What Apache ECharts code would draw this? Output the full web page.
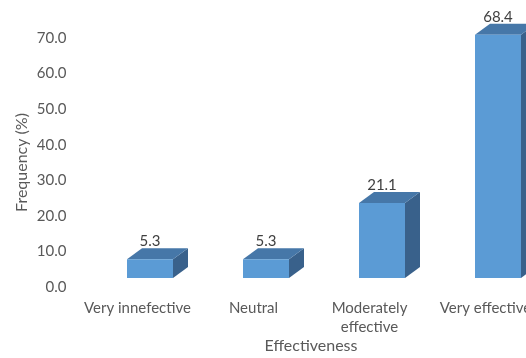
<!DOCTYPE html>
<html>
<head>
<meta charset="utf-8">
<style>
  html, body { margin: 0; padding: 0; background: #fff; }
  #chart { width: 526px; height: 358px; }
</style>
<script src="https://cdn.jsdelivr.net/npm/echarts@6/dist/echarts.min.js"></script>
</head>
<body>
<div id="chart"></div>
<script>
// Survey answers: perceived effectiveness (percent of respondents)
const categories = ['Very innefective', 'Neutral', 'Moderately\neffective', 'Very effective'];
const frequency = [5.3, 5.3, 21.1, 68.4];
const yTicks = { min: 0, max: 70, interval: 10 };

// Pseudo-3D box geometry (pixels)
const BOX = { width: 46, shiftX: 12.5, lift: 9, depthX: 15, depthY: 11 };
const COLORS = { front: '#5B9BD5', top: '#4677A8', side: '#39618B', label: '#404040', axis: '#595959' };
const FONT = 'Lato, "Open Sans", sans-serif';

const chart = echarts.init(document.getElementById('chart'), null, { renderer: 'canvas' });

function renderBox(params, api) {
  const idx = api.value(0);
  const val = api.value(1);
  const base = api.coord([idx, 0]);
  const topPt = api.coord([idx, val]);
  const cx = base[0] + BOX.shiftX;
  const xl = cx - BOX.width / 2;
  const xr = cx + BOX.width / 2;
  const yb = base[1] - BOX.lift;
  const yt = topPt[1] - BOX.lift;
  const dx = BOX.depthX, dy = BOX.depthY;
  return {
    type: 'group',
    children: [
      {
        type: 'polygon',
        shape: { points: [[xr, yt], [xr + dx, yt - dy], [xr + dx, yb - dy], [xr, yb]] },
        style: { fill: COLORS.side }
      },
      {
        type: 'polygon',
        shape: { points: [[xl, yt], [xr, yt], [xr + dx, yt - dy], [xl + dx, yt - dy]] },
        style: { fill: COLORS.top }
      },
      {
        type: 'rect',
        shape: { x: xl, y: yt, width: BOX.width, height: yb - yt },
        style: { fill: COLORS.front }
      },
      {
        type: 'text',
        x: cx,
        y: yt - dy + 1,
        style: {
          text: val.toFixed(1),
          fill: COLORS.label,
          font: '15px ' + FONT,
          align: 'center',
          verticalAlign: 'bottom'
        }
      }
    ]
  };
}

chart.setOption({
  animation: false,
  backgroundColor: '#ffffff',
  grid: {
    left: 79.5, right: -17.5, top: 38, bottom: 71,
    containLabel: false,
    outerBoundsMode: 'none'
  },
  xAxis: {
    type: 'category',
    data: categories,
    name: 'Effectiveness',
    nameLocation: 'middle',
    nameGap: 51,
    nameMoveOverlap: false,
    nameTextStyle: { color: COLORS.axis, fontSize: 16, fontFamily: FONT, padding: [0, 0, 0, -464 + 2 * (311 - 79.5)] },
    axisLine: { show: false },
    axisTick: { show: false },
    axisLabel: { color: COLORS.axis, fontSize: 15, fontFamily: FONT, margin: 12, lineHeight: 19, interval: 0 }
  },
  yAxis: {
    type: 'value',
    min: yTicks.min,
    max: yTicks.max,
    interval: yTicks.interval,
    name: 'Frequency (%)',
    nameLocation: 'middle',
    nameGap: 50,
    nameMoveOverlap: false,
    nameTextStyle: { color: COLORS.axis, fontSize: 16, fontFamily: FONT },
    splitLine: { show: false },
    axisLine: { show: false },
    axisTick: { show: false },
    axisLabel: {
      color: COLORS.axis, fontSize: 15, fontFamily: FONT, margin: 13,
      formatter: v => v.toFixed(1)
    }
  },
  series: [{
    type: 'custom',
    clip: false,
    renderItem: renderBox,
    data: frequency.map((v, i) => [i, v])
  }]
});
</script>
</body>
</html>
